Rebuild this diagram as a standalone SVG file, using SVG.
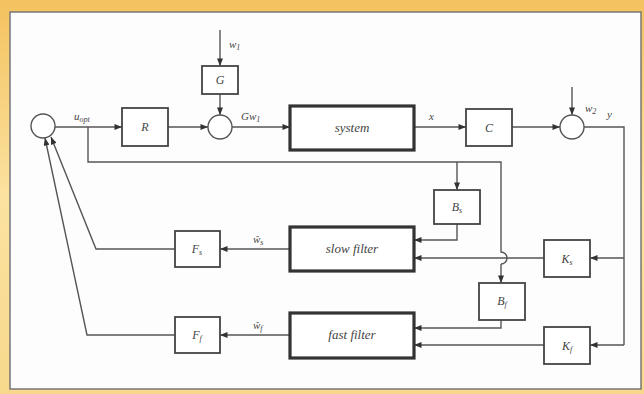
<svg xmlns="http://www.w3.org/2000/svg" width="644" height="394" viewBox="0 0 644 394">
<defs>
<linearGradient id="frame" x1="0" y1="0" x2="0" y2="1">
<stop offset="0" stop-color="#f4c25f"/>
<stop offset="0.5" stop-color="#fbe2a0"/>
<stop offset="1" stop-color="#f8d98c"/>
</linearGradient>
<marker id="ah" viewBox="0 0 10 8" refX="10" refY="4" markerWidth="9" markerHeight="6" markerUnits="userSpaceOnUse" orient="auto">
<path d="M0,0 L10,4 L0,8 z" fill="#333"/>
</marker>
<style>
.ln{fill:none;stroke:#555;stroke-width:1.4}
.ar{fill:none;stroke:#555;stroke-width:1.4;marker-end:url(#ah)}
.bx{fill:#fff;stroke:#444;stroke-width:1.8}
.tb{fill:#fff;stroke:#333;stroke-width:3.2}
.sm{fill:#fff;stroke:#555;stroke-width:1.4}
.t{font-family:"Liberation Serif",serif;font-style:italic;font-size:12px;fill:#444;text-anchor:middle}
.tl{font-family:"Liberation Serif",serif;font-style:italic;font-size:13px;fill:#444;text-anchor:middle}
.lb{font-family:"Liberation Serif",serif;font-style:italic;font-size:11px;fill:#444}
</style>
</defs>
<rect x="0" y="0" width="644" height="394" fill="url(#frame)"/>
<rect x="10" y="12" width="631" height="377" fill="#fdfdfd" stroke="#777" stroke-width="1.5"/>

<g id="connectors">
<path class="ar" d="M55,127 H122"/>
<path class="ln" d="M88,127 V162 H501 V252 A6,6 0 0 1 501,264"/>
<path class="ar" d="M501,264 V283"/>
<path class="ar" d="M457,162 V190"/>
<path class="ar" d="M168,127 H208"/>
<path class="ar" d="M220,30 V66"/>
<path class="ar" d="M220,94 V115"/>
<path class="ar" d="M232,127 H290"/>
<path class="ar" d="M414,127 H466"/>
<path class="ar" d="M512,127 H560"/>
<path class="ar" d="M572,87 V115"/>
<path class="ln" d="M584,127 H624 V345"/>
<path class="ar" d="M624,345 H590"/>
<path class="ar" d="M624,258 H590"/>
<path class="ar" d="M544,258 H414"/>
<path class="ar" d="M544,345 H414"/>
<path class="ar" d="M457,224 V240 H414"/>
<path class="ar" d="M501,320 V328 H414"/>
<path class="ar" d="M290,249 H220"/>
<path class="ar" d="M290,335 H220"/>
<path class="ar" d="M175,249 H96 L51,137"/>
<path class="ar" d="M175,335 H87 L45,138"/>
</g>

<g id="labels">
<text class="lb" x="74" y="120">u<tspan font-size="8" dy="2">opt</tspan></text>
<text class="lb" x="229" y="48">w<tspan font-size="8" dy="2">1</tspan></text>
<text class="lb" x="241" y="120">Gw<tspan font-size="8" dy="2">1</tspan></text>
<text class="lb" x="429" y="120">x</text>
<text class="lb" x="585" y="112">w<tspan font-size="8" dy="2">2</tspan></text>
<text class="lb" x="607" y="118">y</text>
<text class="lb" x="253" y="243">ŵ<tspan font-size="8" dy="2">s</tspan></text>
<text class="lb" x="253" y="329">ŵ<tspan font-size="8" dy="2">f</tspan></text>
</g>

<g id="sum1"><circle class="sm" cx="43" cy="126" r="12"/></g>
<g id="R"><rect class="bx" x="122" y="108" width="46" height="38"/><text class="t" x="145" y="131">R</text></g>
<g id="sum2"><circle class="sm" cx="220" cy="127" r="12"/></g>
<g id="G"><rect class="bx" x="202" y="66" width="36" height="28"/><text class="t" x="220" y="84">G</text></g>
<g id="system"><rect class="tb" x="290" y="106" width="124" height="44"/><text class="tl" x="352" y="132">system</text></g>
<g id="C"><rect class="bx" x="466" y="109" width="46" height="37"/><text class="t" x="489" y="132">C</text></g>
<g id="sum3"><circle class="sm" cx="572" cy="127" r="12"/></g>
<g id="Bs"><rect class="bx" x="434" y="190" width="46" height="34"/><text class="t" x="457" y="211">B<tspan font-size="8" dy="2">s</tspan></text></g>
<g id="slowfilter"><rect class="tb" x="290" y="227" width="124" height="44"/><text class="tl" x="352" y="253">slow filter</text></g>
<g id="Ks"><rect class="bx" x="544" y="240" width="46" height="37"/><text class="t" x="567" y="263">K<tspan font-size="8" dy="2">s</tspan></text></g>
<g id="Fs"><rect class="bx" x="175" y="231" width="45" height="36"/><text class="t" x="197" y="253">F<tspan font-size="8" dy="2">s</tspan></text></g>
<g id="Bf"><rect class="bx" x="479" y="283" width="46" height="37"/><text class="t" x="502" y="305">B<tspan font-size="8" dy="2">f</tspan></text></g>
<g id="fastfilter"><rect class="tb" x="290" y="313" width="124" height="45"/><text class="tl" x="352" y="339">fast filter</text></g>
<g id="Kf"><rect class="bx" x="544" y="327" width="46" height="37"/><text class="t" x="567" y="350">K<tspan font-size="8" dy="2">f</tspan></text></g>
<g id="Ff"><rect class="bx" x="175" y="317" width="45" height="36"/><text class="t" x="197" y="339">F<tspan font-size="8" dy="2">f</tspan></text></g>
</svg>
